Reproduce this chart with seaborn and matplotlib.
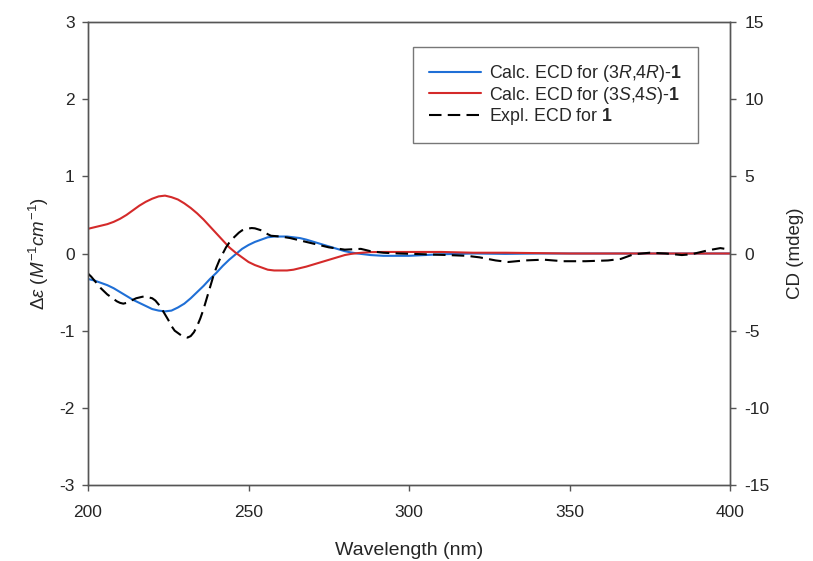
import numpy as np
import pandas as pd
import matplotlib
matplotlib.use("Agg")
import matplotlib.pyplot as plt
import seaborn as sns

# Calculated ECD (3R,4R)-1, delta epsilon
wl_rr = [200, 202, 204, 206, 208, 210, 212, 214, 216, 218, 220, 222, 224, 226, 228, 230,
         232, 234, 236, 238, 240, 242, 244, 246, 248, 250, 252, 254, 256, 258, 260, 262,
         264, 266, 268, 270, 272, 274, 276, 278, 280, 282, 284, 286, 288, 290, 292, 296,
         300, 305, 310, 320, 330, 340, 350, 360, 370, 380, 390, 400]
de_rr = [-0.33, -0.35, -0.38, -0.41, -0.45, -0.50, -0.55, -0.60, -0.64, -0.68, -0.72, -0.74,
         -0.75, -0.74, -0.70, -0.65, -0.58, -0.50, -0.42, -0.33, -0.25, -0.16, -0.08, -0.01,
         0.06, 0.11, 0.15, 0.18, 0.21, 0.22, 0.22, 0.22, 0.21, 0.20, 0.18, 0.155, 0.13,
         0.105, 0.08, 0.055, 0.03, 0.013, 0.0, -0.01, -0.02, -0.025, -0.03, -0.03, -0.03,
         -0.02, -0.01, 0.0, -0.005, 0.0, 0.0, 0.0, 0.0, 0.0, 0.0, 0.0]

# Calculated ECD (3S,4S)-1, delta epsilon
wl_ss = [200, 202, 204, 206, 208, 210, 212, 214, 216, 218, 220, 222, 224, 226, 228, 230,
         232, 234, 236, 238, 240, 242, 244, 246, 248, 250, 252, 254, 256, 258, 260, 262,
         264, 266, 268, 270, 272, 274, 276, 278, 280, 282, 284, 286, 288, 292, 300, 310,
         320, 330, 340, 350, 360, 370, 380, 390, 400]
de_ss = [0.32, 0.34, 0.36, 0.38, 0.41, 0.45, 0.50, 0.56, 0.62, 0.67, 0.71, 0.74, 0.75,
         0.73, 0.70, 0.65, 0.59, 0.52, 0.44, 0.35, 0.26, 0.17, 0.08, 0.01, -0.05, -0.11,
         -0.15, -0.18, -0.21, -0.22, -0.22, -0.22, -0.21, -0.19, -0.17, -0.145, -0.12,
         -0.095, -0.07, -0.045, -0.02, -0.005, 0.005, 0.012, 0.018, 0.02, 0.02, 0.02, 0.01,
         0.01, 0.005, 0.0, 0.0, 0.0, 0.0, 0.0, 0.0]

# Experimental ECD for 1, mdeg
wl_exp = [200, 201, 202, 203, 204, 205, 206, 207, 208, 209, 210, 211, 212, 213, 214, 215,
          216, 217, 218, 219, 220, 221, 222, 223, 224, 225, 226, 227, 229, 231, 232, 233,
          234, 235, 236, 237, 238, 239, 240, 241, 242, 243, 244, 245, 246, 247, 248, 250,
          251, 252, 254, 256, 257, 260, 263, 266, 270, 275, 280, 285, 288, 292, 297, 305,
          312, 318, 322, 327, 331, 336, 342, 348, 355, 362, 366, 370, 375, 380, 385, 388,
          393, 397, 400]
cd_exp = [-1.3, -1.5, -1.75, -2.0, -2.25, -2.45, -2.65, -2.8, -2.95, -3.1, -3.2, -3.25,
          -3.2, -3.1, -3.0, -2.9, -2.85, -2.8, -2.8, -2.85, -2.9, -3.05, -3.3, -3.6, -3.95,
          -4.3, -4.7, -5.0, -5.3, -5.45, -5.35, -5.1, -4.7, -4.2, -3.6, -2.9, -2.2, -1.5,
          -0.9, -0.4, 0.0, 0.4, 0.7, 0.95, 1.15, 1.35, 1.5, 1.62, 1.65, 1.63, 1.5, 1.25,
          1.15, 1.1, 1.0, 0.85, 0.65, 0.4, 0.25, 0.3, 0.15, 0.05, 0.0, -0.05, -0.1, -0.15,
          -0.25, -0.45, -0.55, -0.45, -0.4, -0.5, -0.5, -0.45, -0.35, -0.05, 0.05, 0.0,
          -0.1, -0.05, 0.2, 0.35, 0.25]

labels = [r"Calc. ECD for (3$\it{R}$,4$\it{R}$)-$\bf{1}$",
          r"Calc. ECD for (3$\it{S}$,4$\it{S}$)-$\bf{1}$",
          r"Expl. ECD for $\bf{1}$"]

sns.set_style("ticks")
plt.rcParams['font.family'] = ['Liberation Sans', 'DejaVu Sans']
plt.rcParams['mathtext.fontset'] = 'custom'
plt.rcParams['mathtext.rm'] = 'Liberation Sans'
plt.rcParams['mathtext.it'] = 'Liberation Sans:italic'
plt.rcParams['mathtext.bf'] = 'Liberation Sans:bold'
plt.rcParams['axes.unicode_minus'] = False

fig = plt.figure(figsize=(8.13, 5.61), dpi=100)
ax = fig.add_axes([88/813, 1-485/561, (730-88)/813, (485-22)/561])
ax2 = ax.twinx()

df_rr = pd.DataFrame({"wl": wl_rr, "v": de_rr})
df_ss = pd.DataFrame({"wl": wl_ss, "v": de_ss})
df_ex = pd.DataFrame({"wl": wl_exp, "v": cd_exp})

sns.lineplot(data=df_rr, x="wl", y="v", ax=ax, color="#1f6fd6", lw=1.5, label=labels[0], legend=False)
sns.lineplot(data=df_ss, x="wl", y="v", ax=ax, color="#d42a2a", lw=1.5, label=labels[1], legend=False)
sns.lineplot(data=df_ex, x="wl", y="v", ax=ax2, color="black", lw=1.5, label=labels[2], legend=False)
ax2.lines[0].set_dashes([6, 3])

ax.set_xlim(200, 400)
ax.set_ylim(-3, 3)
ax2.set_ylim(-15, 15)
ax.set_xticks([200, 250, 300, 350, 400])
ax.set_yticks([-3, -2, -1, 0, 1, 2, 3])
ax2.set_yticks([-15, -10, -5, 0, 5, 10, 15])

ax.set_xlabel("Wavelength (nm)", fontsize=14, labelpad=16)
ax.set_ylabel(r"$\Delta\it{\varepsilon}\ (M^{-1}cm^{-1})$", fontsize=13.5, labelpad=6)
ax2.set_ylabel("CD (mdeg)", fontsize=13.5, labelpad=12)

for a in (ax, ax2):
    a.tick_params(labelsize=12.5, length=4.5, width=1, color="#555555", direction="out")
    for s in a.spines.values():
        s.set_color("#555555")
        s.set_linewidth(1)
        s.set_visible(True)
ax.tick_params(axis="x", pad=10)
ax.tick_params(axis="y", pad=5)
ax2.tick_params(axis="y", pad=6)

h1, l1 = ax.get_legend_handles_labels()
h2, l2 = ax2.get_legend_handles_labels()
leg = ax2.legend(h1 + h2, l1 + l2, loc="upper left", bbox_to_anchor=((413-88)/642, 1-(47-22)/463),
                 fontsize=12.8, frameon=True, fancybox=False, edgecolor="#555555",
                 handlelength=2.9, borderpad=0.9, labelspacing=0.03, handletextpad=0.5,
                 borderaxespad=0)
leg.get_frame().set_linewidth(1)

fig.savefig("out.png", dpi=100)
